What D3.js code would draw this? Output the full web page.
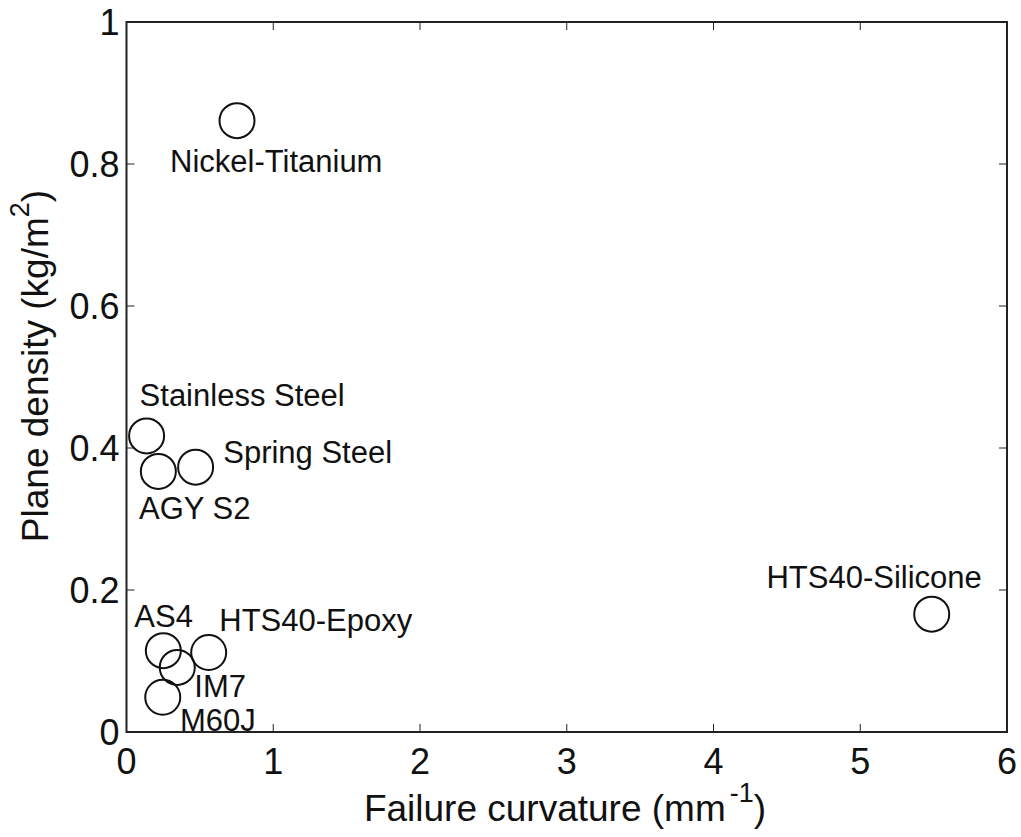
<!DOCTYPE html>
<html>
<head>
<meta charset="utf-8">
<script src="https://cdn.jsdelivr.net/npm/d3@7"></script>
<style>
  body { margin: 0; background: #fff; }
  text { font-family: "Liberation Sans", Arial, Helvetica, sans-serif; fill: #111; }
</style>
</head>
<body>
<svg width="1021" height="837"></svg>
<script>
const materials = ["Nickel-Titanium", "Stainless Steel", "Spring Steel", "AGY S2", "AS4",
  "HTS40-Epoxy", "IM7", "M60J", "HTS40-Silicone"];
const curvature = [0.753, 0.137, 0.471, 0.217, 0.251, 0.56, 0.346, 0.247, 5.487];
const density = [0.861, 0.417, 0.373, 0.367, 0.1145, 0.112, 0.091, 0.049, 0.166];
const xTicks = [0, 1, 2, 3, 4, 5, 6];
const yTicks = [0, 0.2, 0.4, 0.6, 0.8, 1];

// label offsets from marker centre (px), start-anchored
const labelOffset = {
  "Nickel-Titanium": [-67, 51],
  "Stainless Steel": [-7, -30],
  "Spring Steel": [27.6, -4.6],
  "AGY S2": [-19.3, 47.6],
  "AS4": [-29, -24],
  "HTS40-Epoxy": [10.6, -21.6],
  "IM7": [17, 30],
  "M60J": [17.3, 33.5],
  "HTS40-Silicone": [-165.3, -25.7]
};

const data = materials.map((m, i) => ({ name: m, x: curvature[i], y: density[i] }));

const svg = d3.select("svg");
const margin = { top: 22, right: 14, bottom: 105, left: 126.5 };
const width = 1021 - margin.left - margin.right;
const height = 837 - margin.top - margin.bottom;

const g = svg.append("g").attr("transform", `translate(${margin.left},${margin.top})`);

const x = d3.scaleLinear().domain([0, 6]).range([0, width]);
const y = d3.scaleLinear().domain([0, 1]).range([height, 0]);

const tickLen = 8;
const axisColor = "#222";

// box
g.append("rect")
  .attr("width", width)
  .attr("height", height)
  .attr("fill", "none")
  .attr("stroke", axisColor)
  .attr("stroke-width", 2);

// ticks (inside, mirrored)
g.selectAll(".xt-b").data(xTicks).enter().append("line")
  .attr("x1", d => x(d)).attr("x2", d => x(d))
  .attr("y1", height).attr("y2", height - tickLen)
  .attr("stroke", axisColor).attr("stroke-width", 1);
g.selectAll(".xt-t").data(xTicks).enter().append("line")
  .attr("x1", d => x(d)).attr("x2", d => x(d))
  .attr("y1", 0).attr("y2", tickLen)
  .attr("stroke", axisColor).attr("stroke-width", 1);
g.selectAll(".yt-l").data(yTicks).enter().append("line")
  .attr("x1", 0).attr("x2", tickLen)
  .attr("y1", d => y(d)).attr("y2", d => y(d))
  .attr("stroke", axisColor).attr("stroke-width", 1);
g.selectAll(".yt-r").data(yTicks).enter().append("line")
  .attr("x1", width).attr("x2", width - tickLen)
  .attr("y1", d => y(d)).attr("y2", d => y(d))
  .attr("stroke", axisColor).attr("stroke-width", 1);

// tick labels
g.selectAll(".xl").data(xTicks).enter().append("text")
  .attr("x", d => x(d))
  .attr("y", height + 42)
  .attr("text-anchor", "middle")
  .style("font-size", "36px")
  .text(d => d);
g.selectAll(".yl").data(yTicks).enter().append("text")
  .attr("x", -7)
  .attr("y", d => y(d) + 13)
  .attr("text-anchor", "end")
  .style("font-size", "36px")
  .text(d => d);

// axis labels
const xl = svg.append("text")
  .attr("x", 565)
  .attr("y", 821)
  .attr("text-anchor", "middle")
  .style("font-size", "37px");
xl.append("tspan").text("Failure curvature (mm");
xl.append("tspan").attr("dy", -19).attr("dx", 4).style("font-size", "27px").text("-1");
xl.append("tspan").attr("dy", 19).text(")");

const yl = svg.append("text")
  .attr("transform", "translate(48,366) rotate(-90)")
  .attr("text-anchor", "middle")
  .style("font-size", "37px");
yl.append("tspan").text("Plane density (kg/m");
yl.append("tspan").attr("dy", -19).style("font-size", "27px").text("2");
yl.append("tspan").attr("dy", 19).text(")");

// markers
g.selectAll(".pt").data(data).enter().append("circle")
  .attr("cx", d => x(d.x))
  .attr("cy", d => y(d.y))
  .attr("r", 17.5)
  .attr("fill", "none")
  .attr("stroke", "#111")
  .attr("stroke-width", 2);

// point labels
g.selectAll(".lab").data(data).enter().append("text")
  .attr("x", d => x(d.x) + labelOffset[d.name][0])
  .attr("y", d => y(d.y) + labelOffset[d.name][1])
  .style("font-size", "31px")
  .text(d => d.name);
</script>
</body>
</html>
